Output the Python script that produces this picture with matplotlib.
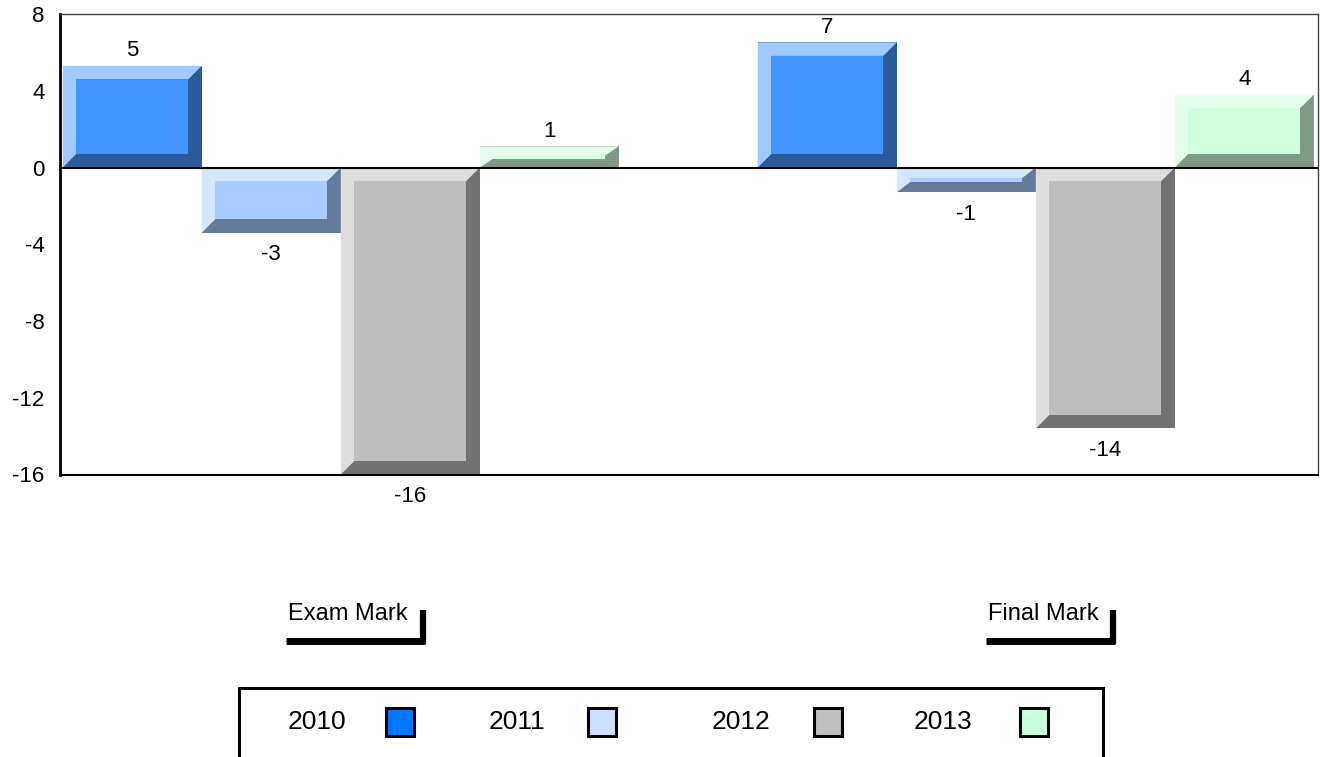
import matplotlib
matplotlib.use("Agg")
import matplotlib.pyplot as plt
from matplotlib.patches import Polygon, Rectangle
from matplotlib.lines import Line2D

plt.rcParams['font.family'] = ['Liberation Sans', 'DejaVu Sans']

categories = ["Exam Mark", "Final Mark"]
series = ["2010", "2011", "2012", "2013"]
exam_vals = [5.3, -3.4, -16.0, 1.1]
final_vals = [6.52, -1.3, -13.6, 3.8]
yticks = [8, 4, 0, -4, -8, -12, -16]

face_colors = ["#4393FF", "#AACCFF", "#BEBEBE", "#D0FFE0"]
light_colors = ["#A0C9FF", "#D5E6FF", "#DEDEDE", "#E5FFEE"]
dark_colors = ["#2A5B9B", "#667B99", "#727272", "#7F9A87"]
legend_colors = ["#0077FF", "#CCE0FF", "#BFBFBF", "#C8FFDC"]

W, H = 1320, 757
fig = plt.figure(figsize=(W / 100, H / 100), dpi=100)
fig.patch.set_facecolor("white")

def fx(x):
    return x / W

def fy(y):
    return 1 - y / H

ax = fig.add_axes([fx(60), fy(474.5), (1318 - 60) / W, (474.5 - 14) / H])
ax.set_xlim(-0.404, 1.406)
ax.set_ylim(-16, 8)

values = [exam_vals, final_vals]
bw = 0.2
bx = 13.5 / 695.0
by_full = 13.5 / 19.19

for j in range(len(series)):
    xs = [i + (j - 1.5) * bw for i in range(len(categories))]
    vals = [values[i][j] for i in range(len(categories))]
    bars = ax.bar(xs, vals, width=bw, color=dark_colors[j], edgecolor="none",
                  zorder=2)
    for rect, v in zip(bars, vals):
        x0 = rect.get_x()
        x1 = x0 + rect.get_width()
        yb, yt = min(0, v), max(0, v)
        h = yt - yb
        byy = min(by_full, 0.42 * h)
        light = Polygon([(x0, yb), (x0, yt), (x1, yt), (x1 - bx, yt - byy),
                         (x0 + bx, yt - byy), (x0 + bx, yb + byy)],
                        closed=True, facecolor=light_colors[j],
                        edgecolor="none", zorder=3)
        ax.add_patch(light)
        face = Rectangle((x0 + bx, yb + byy), (x1 - x0) - 2 * bx,
                         h - 2 * byy, facecolor=face_colors[j],
                         edgecolor="none", zorder=4)
        ax.add_patch(face)
        off = 11.0 if v >= 0 else -16.0
        ax.annotate(f"{v:.0f}", xy=(x0 + bw / 2, v), xytext=(0, off),
                    textcoords="offset points", ha="center", va="center",
                    fontsize=16, color="black", zorder=6)

ax.axhline(0, color="black", lw=1.5, zorder=5)
for side in ["top", "right"]:
    ax.spines[side].set_color("#444444")
    ax.spines[side].set_linewidth(1.0)
ax.spines["left"].set_color("black")
ax.spines["left"].set_linewidth(2.0)
ax.spines["bottom"].set_color("black")
ax.spines["bottom"].set_linewidth(1.5)
ax.set_yticks(yticks)
ax.set_yticklabels([str(t) for t in yticks])
ax.set_xticks([])
ax.tick_params(axis="y", length=0, pad=11, labelsize=16, labelcolor="black")

# category labels with bracket decoration
fig.canvas.draw()
renderer = fig.canvas.get_renderer()
for i, cat in enumerate(categories):
    cx = ax.transData.transform((i, 0))[0]
    t = fig.text(fx(cx + 7), fy(614), cat, ha="center", va="center",
                 fontsize=17, color="black")
    bb = t.get_window_extent(renderer)
    left = bb.x0
    right = bb.x1
    vx = right + 15
    fig.add_artist(Line2D([fx(vx), fx(vx)], [fy(610), fy(644)],
                          color="black", lw=4.5, solid_capstyle="butt"))
    fig.add_artist(Line2D([fx(left - 2), fx(vx + 2.2)], [fy(640.5), fy(640.5)],
                          color="black", lw=5, solid_capstyle="butt"))

# legend
fig.add_artist(Rectangle((fx(239.5), fy(765)), (1103 - 239.5) / W,
                         (765 - 687.5) / H, transform=fig.transFigure,
                         facecolor="none", edgecolor="black", lw=2.2))
text_x = [288, 489, 712, 914]
sq_x = [386, 588, 814, 1020]
for j, name in enumerate(series):
    fig.text(fx(text_x[j]), fy(722), name, ha="left", va="center",
             fontsize=19, color="black")
    fig.add_artist(Rectangle((fx(sq_x[j]), fy(736)), 28 / W, 28 / H,
                             transform=fig.transFigure,
                             facecolor=legend_colors[j], edgecolor="black",
                             lw=2.2))

fig.savefig("out.png", dpi=100)
